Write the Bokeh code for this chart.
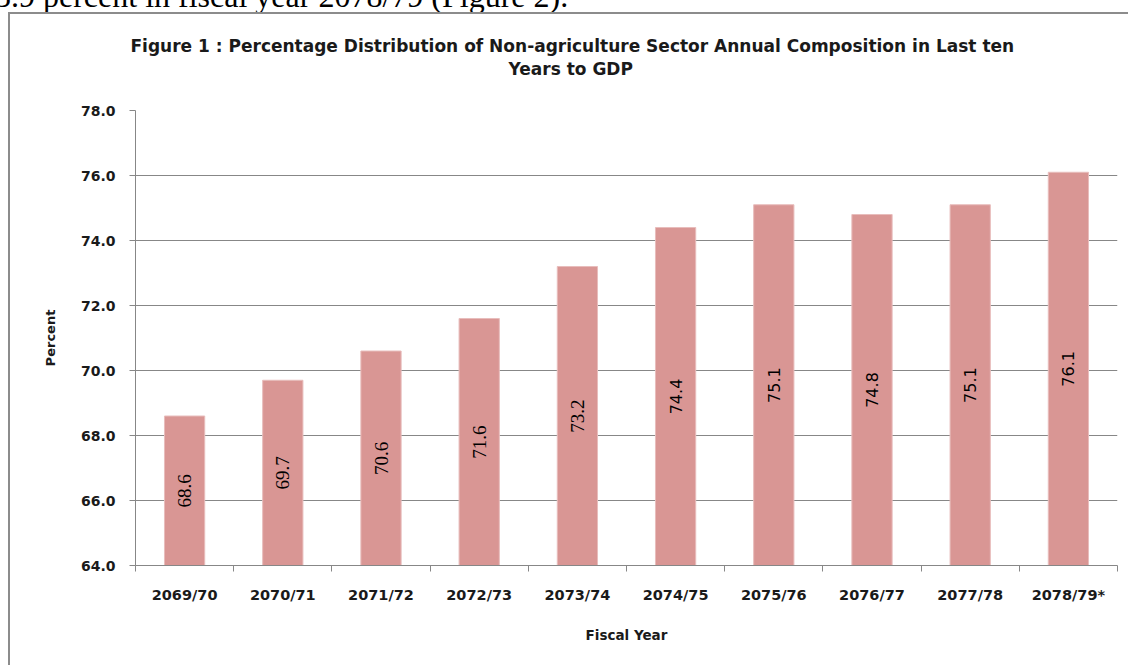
import math
from bokeh.plotting import figure
from bokeh.layouts import column
from bokeh.models import (ColumnDataSource, FixedTicker, NumeralTickFormatter, Range1d,
                          Title, CDSView, IndexFilter, Div)
from bokeh.core.properties import value
from bokeh.embed import file_html
from bokeh.resources import INLINE

# ---- data ----
categories = ["2069/70", "2070/71", "2071/72", "2072/73", "2073/74",
              "2074/75", "2075/76", "2076/77", "2077/78", "2078/79*"]
values = [68.6, 69.7, 70.6, 71.6, 73.2, 74.4, 75.1, 74.8, 75.1, 76.1]
y_ticks = [64, 66, 68, 70, 72, 74, 76, 78]
y_min = 64.0
y_max = 78.0
title_line1 = "Figure 1 :  Percentage Distribution of Non-agriculture Sector Annual Composition in Last ten"
title_line2 = "Years to GDP"
x_label = "Fiscal Year"
y_label = "Percent"
page_text = "3.9 percent in fiscal year 2078/79 (Figure 2)."

# ---- derived ----
n = len(categories)
xs = [i + 0.5 for i in range(n)]
src = ColumnDataSource(dict(
    x=xs, top=values,
    label=[f"{v:.1f}" for v in values],
    label_y=[(y_min + v) / 2 for v in values],
))

GRID = "#878787"
BAR = "#D99694"
TXT = "#1a1a1a"
SANS = "DejaVu Sans"

p = figure(width=1120, height=653, output_backend="svg", toolbar_location=None,
           x_range=Range1d(0, n), y_range=Range1d(y_min, y_max),
           min_border_left=125, min_border_right=13, min_border_top=96, min_border_bottom=102,
           title=None)
p.outline_line_color = None
p.background_fill_color = "white"
p.border_fill_color = "white"
p.styles = {"border-left": "2px solid #8c8c8c", "border-top": "2px solid #8c8c8c",
            "margin-left": "8px"}

p.vbar(x="x", top="top", bottom=y_min, width=0.41, source=src,
       fill_color=BAR, line_color="#E8BDBC", line_width=1)

serif_view = CDSView(filter=IndexFilter(list(range(5))))
sans_view = CDSView(filter=IndexFilter(list(range(5, n))))
p.text(x="x", y="label_y", text="label", source=src, view=serif_view,
       angle=math.pi / 2, text_align="center", text_baseline="middle",
       text_font=value("Liberation Serif"), text_font_size="19px", text_color="black")
p.text(x="x", y="label_y", text="label", source=src, view=sans_view,
       angle=math.pi / 2, text_align="center", text_baseline="middle",
       text_font=value(SANS), text_font_size="16px", text_color="black")

# x axis
p.xaxis.ticker = FixedTicker(ticks=xs, minor_ticks=list(range(n + 1)))
p.xaxis.major_label_overrides = {x: c for x, c in zip(xs, categories)}
p.xaxis.major_tick_out = 0
p.xaxis.major_tick_in = 0
p.xaxis.minor_tick_out = 6
p.xaxis.minor_tick_in = 0
p.xaxis.minor_tick_line_color = GRID
p.xaxis.axis_line_color = GRID
p.xaxis.major_label_standoff = 15
p.xaxis.major_label_text_font = SANS
p.xaxis.major_label_text_font_style = "bold"
p.xaxis.major_label_text_font_size = "14.5px"
p.xaxis.major_label_text_color = TXT
p.xaxis.axis_label = x_label
p.xaxis.axis_label_text_font = SANS
p.xaxis.axis_label_text_font_style = "bold"
p.xaxis.axis_label_text_font_size = "13.5px"
p.xaxis.axis_label_standoff = 21
p.xaxis.axis_label_text_color = TXT
p.xgrid.visible = False

# y axis
p.yaxis.ticker = FixedTicker(ticks=y_ticks, minor_ticks=[])
p.yaxis.formatter = NumeralTickFormatter(format="0.0")
p.yaxis.major_tick_out = 6
p.yaxis.major_tick_in = 0
p.yaxis.major_tick_line_color = GRID
p.yaxis.axis_line_color = GRID
p.yaxis.major_label_standoff = 14
p.yaxis.major_label_text_font = SANS
p.yaxis.major_label_text_font_style = "bold"
p.yaxis.major_label_text_font_size = "14px"
p.yaxis.major_label_text_color = TXT
p.yaxis.axis_label = y_label
p.yaxis.axis_label_text_font = SANS
p.yaxis.axis_label_text_font_style = "bold"
p.yaxis.axis_label_text_font_size = "13px"
p.yaxis.axis_label_standoff = 20
p.yaxis.axis_label_text_color = TXT
p.ygrid.ticker = FixedTicker(ticks=y_ticks)
p.ygrid.grid_line_color = GRID
p.ygrid.grid_line_width = 1

# title: spacer (nearest frame), then line 2, then line 1
p.add_layout(Title(text=" ", text_font_size="2px", standoff=23), "above")
p.add_layout(Title(text=title_line2, align="left", offset=373, vertical_align="top",
                   standoff=6, text_font=SANS, text_font_style="bold",
                   text_font_size="17px", text_color=TXT), "above")
p.add_layout(Title(text=title_line1, align="left", offset=-5, vertical_align="bottom",
                   standoff=0, text_font=SANS, text_font_style="bold",
                   text_font_size="17px", text_color=TXT), "above")

top_div = Div(
    text=('<div style="position:relative; top:-10px; left:-5px; '
          'font-family:\'Liberation Serif\'; font-size:32px; line-height:12px; '
          'white-space:nowrap; color:#000;">' + page_text + '</div>'),
    width=1130, height=12, margin=0)

layout = column(top_div, p, spacing=0)
open("out.html", "w").write(file_html(layout, INLINE))
